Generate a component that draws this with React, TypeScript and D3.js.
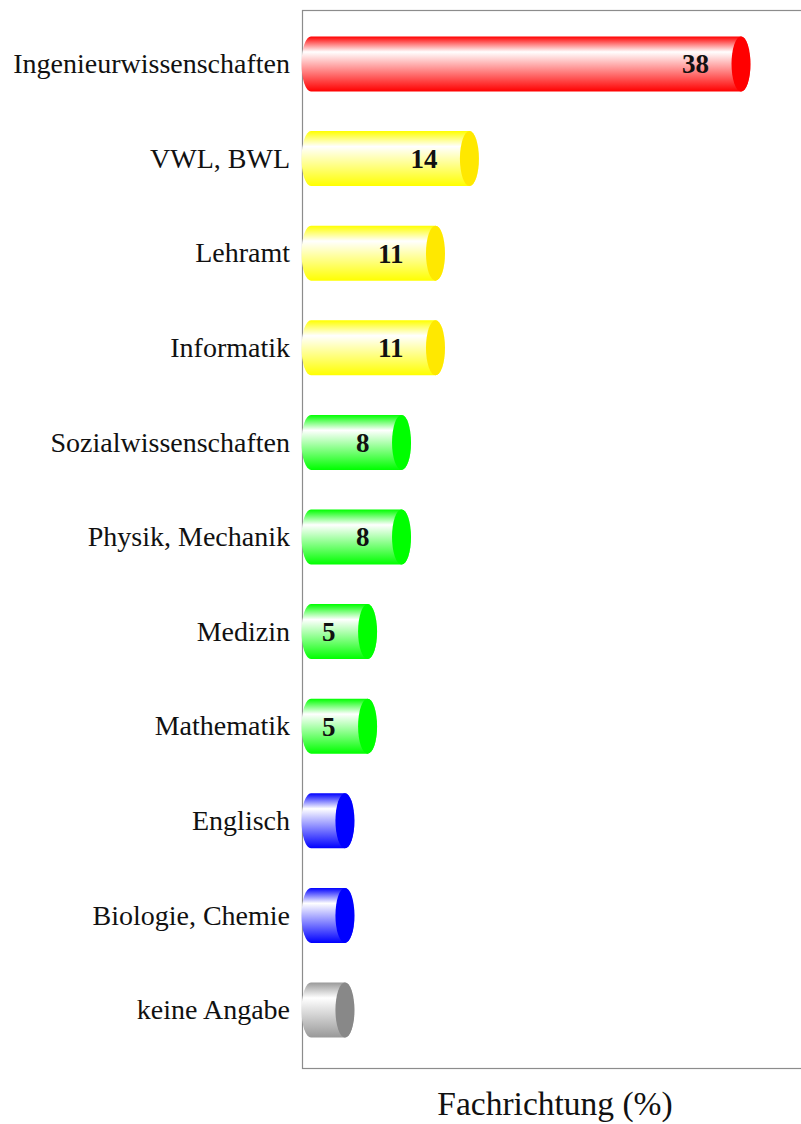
import { useEffect, useRef } from 'react'
import * as d3 from 'd3'

const categories = [
  'Ingenieurwissenschaften',
  'VWL, BWL',
  'Lehramt',
  'Informatik',
  'Sozialwissenschaften',
  'Physik, Mechanik',
  'Medizin',
  'Mathematik',
  'Englisch',
  'Biologie, Chemie',
  'keine Angabe',
]
const values = [38, 14, 11, 11, 8, 8, 5, 5, 3, 3, 3]
const groups = ['red', 'yellow', 'yellow', 'yellow', 'green', 'green', 'green', 'green', 'blue', 'blue', 'gray']
const xLabel = 'Fachrichtung (%)'

const PALETTE: Record<string, { body: string; cap: string }> = {
  red: { body: '#ff0000', cap: '#ff0000' },
  yellow: { body: '#ffff00', cap: '#ffe800' },
  green: { body: '#00ff00', cap: '#00ff00' },
  blue: { body: '#0000ff', cap: '#0000ff' },
  gray: { body: '#999999', cap: '#888888' },
}

const W = 801
const H = 1124
// right edge of the axis box sits just outside the picture
const FRAME = { left: 302, top: 10, right: 803, bottom: 1068 }
const FONT = '"Liberation Serif", "Times New Roman", serif'

export default function App() {
  const ref = useRef<SVGSVGElement>(null)

  useEffect(() => {
    const svg = d3.select(ref.current)
    svg.selectAll('*').remove()

    const x = d3.scaleLinear().domain([0, 38]).range([311, 741])
    const y = d3.scalePoint<string>().domain(categories).range([64, 1010])
    const barH = 55
    const rx = 9.5
    const ry = barH / 2

    // gradients
    const defs = svg.append('defs')
    Object.entries(PALETTE).forEach(([k, c]) => {
      const g = defs.append('linearGradient')
        .attr('id', `body-${k}`)
        .attr('x1', 0).attr('y1', 0).attr('x2', 0).attr('y2', 1)
      g.append('stop').attr('offset', '0%').attr('stop-color', c.body)
      g.append('stop').attr('offset', '28%').attr('stop-color', '#ffffff')
      g.append('stop').attr('offset', '100%').attr('stop-color', c.body)
    })

    // frame
    svg.append('rect')
      .attr('x', FRAME.left + 0.5).attr('y', FRAME.top + 0.5)
      .attr('width', FRAME.right - FRAME.left).attr('height', FRAME.bottom - FRAME.top)
      .attr('fill', 'none')
      .attr('stroke', '#8c8c8c')
      .attr('stroke-width', 1.2)

    const rows = svg.append('g')
      .selectAll('g')
      .data(categories.map((c, i) => ({ c, v: values[i], grp: groups[i] })))
      .join('g')

    rows.append('path')
      .attr('fill', d => `url(#body-${d.grp})`)
      .attr('d', d => {
        const cy = y(d.c)!
        const x0 = x(0), x1 = x(d.v)
        const t = cy - ry, b = cy + ry
        return `M${x0},${t} L${x1},${t} A${rx},${ry} 0 0 1 ${x1},${b} L${x0},${b} A${rx},${ry} 0 0 1 ${x0},${t} Z`
      })

    rows.append('ellipse')
      .attr('cx', d => x(d.v))
      .attr('cy', d => y(d.c)!)
      .attr('rx', rx)
      .attr('ry', ry)
      .attr('fill', d => PALETTE[d.grp].cap)

    rows.filter(d => d.v >= 5)
      .append('text')
      .attr('x', d => x(d.v) - 32)
      .attr('y', d => y(d.c)!)
      .attr('dy', '0.35em')
      .attr('text-anchor', 'end')
      .attr('font-family', FONT)
      .attr('font-weight', 'bold')
      .attr('font-size', 27)
      .attr('fill', '#111')
      .text(d => d.v)

    // category labels
    rows.append('text')
      .attr('x', FRAME.left - 12)
      .attr('y', d => y(d.c)!)
      .attr('dy', '0.33em')
      .attr('text-anchor', 'end')
      .attr('font-family', FONT)
      .attr('font-size', 28)
      .attr('fill', '#111')
      .text(d => d.c)

    svg.append('text')
      .attr('x', 555)
      .attr('y', 1115)
      .attr('text-anchor', 'middle')
      .attr('font-family', FONT)
      .attr('font-size', 33.5)
      .attr('fill', '#111')
      .text(xLabel)
  }, [])

  return (
    <svg
      ref={ref}
      width={W}
      height={H}
      style={{ position: 'absolute', left: 0, top: 0, background: '#fff' }}
    />
  )
}
